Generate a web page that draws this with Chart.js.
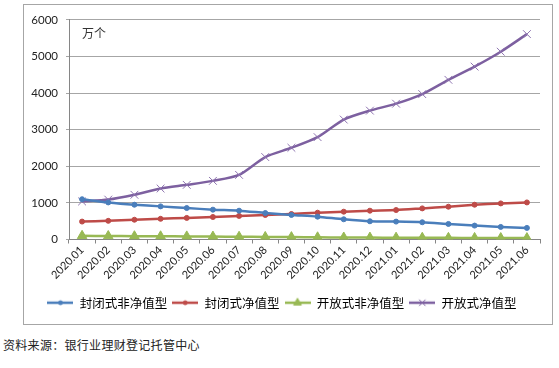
<!DOCTYPE html>
<html>
<head>
<meta charset="utf-8">
<script src="https://cdn.jsdelivr.net/npm/chart.js@4/dist/chart.umd.min.js"></script>
<style>
  body { margin:0; background:#fff; width:559px; height:368px; position:relative; overflow:hidden; }
  #box { position:absolute; left:23px; top:4px; width:528px; height:319px; border:1px solid #a6a6a6; }
  #source { position:absolute; left:3px; top:336px; font-family:"Noto Sans CJK SC"; font-size:12px; color:#222; letter-spacing:0.3px; }
</style>
</head>
<body>
<div id="box"><canvas id="linechart" width="528" height="319"></canvas></div>
<div id="source">资料来源：银行业理财登记托管中心</div>
<script>
let labelMonths = ['2020.01','2020.02','2020.03','2020.04','2020.05','2020.06','2020.07','2020.08','2020.09','2020.10','2020.11','2020.12','2021.01','2021.02','2021.03','2021.04','2021.05','2021.06']
let seriesNames = ['封闭式非净值型','封闭式净值型','开放式非净值型','开放式净值型']
let closedNonNav = [1100,1013,950,905,860,815,787,724,670,624,552,498,489,471,425,380,344,317]
let closedNav = [490,510,540,565,590,615,645,670,697,733,760,787,805,850,896,950,986,1013]
let openNonNav = [100,95,90,88,85,80,75,70,65,60,55,52,50,48,45,42,40,38]
let openNav = [1040,1090,1222,1393,1493,1602,1765,2253,2506,2797,3277,3521,3711,3973,4363,4724,5131,5612]
let seriesColors = ['#4a7ebb','#be4b48','#98b954','#7d60a0']
let yTicks = [0,1000,2000,3000,4000,5000,6000]

let pointStyles = ['circle','circle','triangle','crossRot']
let pointRadius = [2.5,2.5,5.5,5.5]
let allData = [closedNonNav, closedNav, openNonNav, openNav]

// little line+marker picture for each legend entry
function legendIcon(i){
  let c = document.createElement('canvas')
  c.width = 26; c.height = 12
  let g = c.getContext('2d')
  g.strokeStyle = seriesColors[i]; g.fillStyle = seriesColors[i]; g.lineWidth = 2.5
  g.beginPath(); g.moveTo(0,6); g.lineTo(26,6); g.stroke()
  g.lineWidth = 1
  Chart.helpers.drawPoint(g, {pointStyle:pointStyles[i], radius:i < 2 ? 2 : 4.5, rotation:0, borderWidth:1}, 13, 6)
  return c
}

let unitLabel = {
  id:'unitLabel',
  afterDraw(chart){
    let ctx = chart.ctx
    ctx.save()
    ctx.font = '12px "Noto Sans CJK SC"'
    ctx.fillStyle = '#333'
    ctx.textBaseline = 'middle'
    ctx.fillText('万个', chart.chartArea.left + 13, 28)
    ctx.restore()
  }
}

let ctxLine = document.querySelector('#linechart').getContext('2d')

let lineChart = new Chart(ctxLine, {
  type:'line',
  data:{
    labels:labelMonths,
    datasets:seriesNames.map((name,i) => ({
      label:name,
      data:allData[i],
      borderColor:seriesColors[i],
      backgroundColor:seriesColors[i],
      borderWidth:2.5,
      pointStyle:pointStyles[i],
      pointRadius:pointRadius[i],
      pointBorderWidth:1,
      pointBackgroundColor:seriesColors[i],
      pointBorderColor:i == 3 ? '#8e74b0' : seriesColors[i],
      tension:0.25
    }))
  },
  options:{
    responsive:false,
    animation:false,
    layout:{ padding:{ left:0, right:12, top:13, bottom:5 } },
    plugins:{
      legend:{
        position:'bottom',
        labels:{
          usePointStyle:true,
          pointStyleWidth:26,
          boxHeight:12,
          padding:5,
          color:'#333',
          font:{ family:'"Noto Sans CJK SC"', size:12.5 },
          generateLabels(chart){
            return chart.data.datasets.map((ds,i) => ({
              text:ds.label,
              datasetIndex:i,
              fillStyle:seriesColors[i],
              strokeStyle:seriesColors[i],
              lineWidth:0,
              pointStyle:legendIcon(i)
            }))
          }
        }
      },
      tooltip:{ enabled:false }
    },
    scales:{
      x:{
        offset:true,
        afterFit(scale){ scale.height = 52 },
        grid:{ offset:true, drawOnChartArea:false, drawTicks:true, tickLength:4, color:'#868686' },
        border:{ color:'#868686' },
        ticks:{
          minRotation:45, maxRotation:45, autoSkip:false, padding:0,
          color:'#222',
          font:{ family:'Lato', size:11 }
        }
      },
      y:{
        min:0, max:6000,
        afterFit(scale){ scale.width = 45 },
        afterBuildTicks(scale){ scale.ticks = yTicks.map(v => ({ value:v })) },
        grid:{ color:'#a6a6a6', tickLength:3 },
        border:{ color:'#868686' },
        ticks:{
          padding:8,
          color:'#222',
          font:{ family:'Lato', size:11.5 },
          callback:v => String(v)
        }
      }
    }
  },
  plugins:[unitLabel]
})
</script>
</body>
</html>
